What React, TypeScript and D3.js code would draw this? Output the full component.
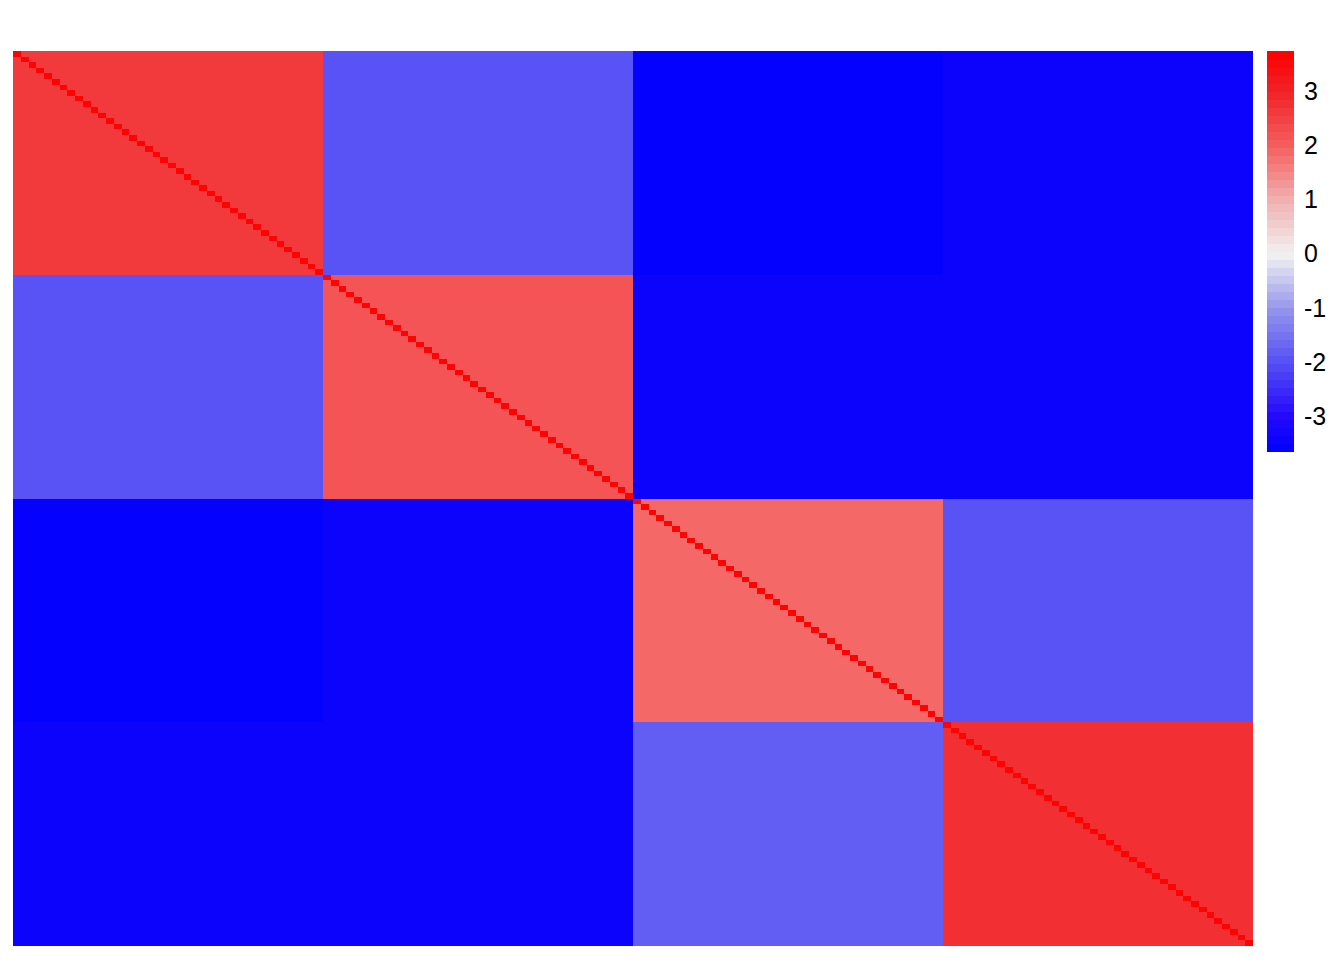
import React from "react";
import * as d3 from "d3";

// ---- data ----
const nPerBlock = 40;
const blockNames = ["A", "B", "C", "D"];
// mean value of each block (row block x column block)
const blockRowA = [2.6, -1.9, -3.6, -3.45];
const blockRowB = [-1.9, 2.2, -3.45, -3.45];
const blockRowC = [-3.6, -3.45, 1.95, -1.9];
const blockRowD = [-3.4, -3.45, -1.85, 2.8];
const blockValues = [blockRowA, blockRowB, blockRowC, blockRowD];
const diagonalValue = 3.72;

// legend
const legendMin = -3.65;
const legendMax = 3.74;
const legendTicks = [3, 2, 1, 0, -1, -2, -3];
const nColors = 50;
// colour stops
const stopValues = [-3.65, -3, -2, -1, 0, 1, 2, 3, 3.74];
const stopColors = [
  "#0000ff",
  "#2308fa",
  "#5650f5",
  "#9696ec",
  "#f2f2f2",
  "#f1afaf",
  "#f55f5f",
  "#f12328",
  "#ff0000",
];

const W = 1344;
const H = 960;

export default function App() {
  const n = nPerBlock * blockNames.length;
  const idx = d3.range(n);

  const x = d3.scaleBand<number>().domain(idx).range([13, 1253]).paddingInner(0).paddingOuter(0);
  const y = d3.scaleBand<number>().domain(idx).range([51, 946]).paddingInner(0).paddingOuter(0);

  const ramp = d3
    .scaleLinear<string>()
    .domain(stopValues)
    .range(stopColors)
    .interpolate(d3.interpolateRgb)
    .clamp(true);

  const step = (legendMax - legendMin) / nColors;
  const palette = d3.range(nColors).map((k) => ramp(legendMin + (k + 0.5) * step));
  const colorOf = (v: number) => {
    let k = Math.floor((v - legendMin) / step);
    k = Math.max(0, Math.min(nColors - 1, k));
    return palette[k];
  };

  const legY = d3.scaleLinear().domain([legendMin, legendMax]).range([451, 51]);

  const blocks: { r: number; c: number; v: number }[] = [];
  blockValues.forEach((row, r) => row.forEach((v, c) => blocks.push({ r, c, v })));

  return (
    <svg width={W} height={H} style={{ display: "block", position: "absolute", left: 0, top: 0 }}>
      <rect x={0} y={0} width={W} height={H} fill="#ffffff" />
      <g shapeRendering="crispEdges">
        {blocks.map((b) => {
          const i0 = b.r * nPerBlock;
          const j0 = b.c * nPerBlock;
          const x0 = x(j0)!;
          const x1 = x(j0 + nPerBlock - 1)! + x.bandwidth();
          const y0 = y(i0)!;
          const y1 = y(i0 + nPerBlock - 1)! + y.bandwidth();
          return (
            <rect
              key={`b${b.r}-${b.c}`}
              x={x0}
              y={y0}
              width={x1 - x0}
              height={y1 - y0}
              fill={colorOf(b.v)}
            />
          );
        })}
        {idx.map((i) => (
          <rect
            key={`d${i}`}
            x={x(i)!}
            y={y(i)!}
            width={x.bandwidth()}
            height={y.bandwidth()}
            fill={colorOf(diagonalValue)}
          />
        ))}
      </g>
      <g shapeRendering="crispEdges">
        {palette.map((c, k) => {
          const v0 = legendMin + k * step;
          const v1 = v0 + step;
          return (
            <rect
              key={`l${k}`}
              x={1267}
              y={legY(v1)}
              width={27}
              height={legY(v0) - legY(v1) + 0.5}
              fill={c}
            />
          );
        })}
      </g>
      <g fontFamily="'Liberation Sans', Arial, sans-serif" fontSize={25} fill="#000">
        {legendTicks.map((t) => (
          <text key={`t${t}`} x={1304} y={legY(t)} dy="0.36em">
            {t}
          </text>
        ))}
      </g>
    </svg>
  );
}
